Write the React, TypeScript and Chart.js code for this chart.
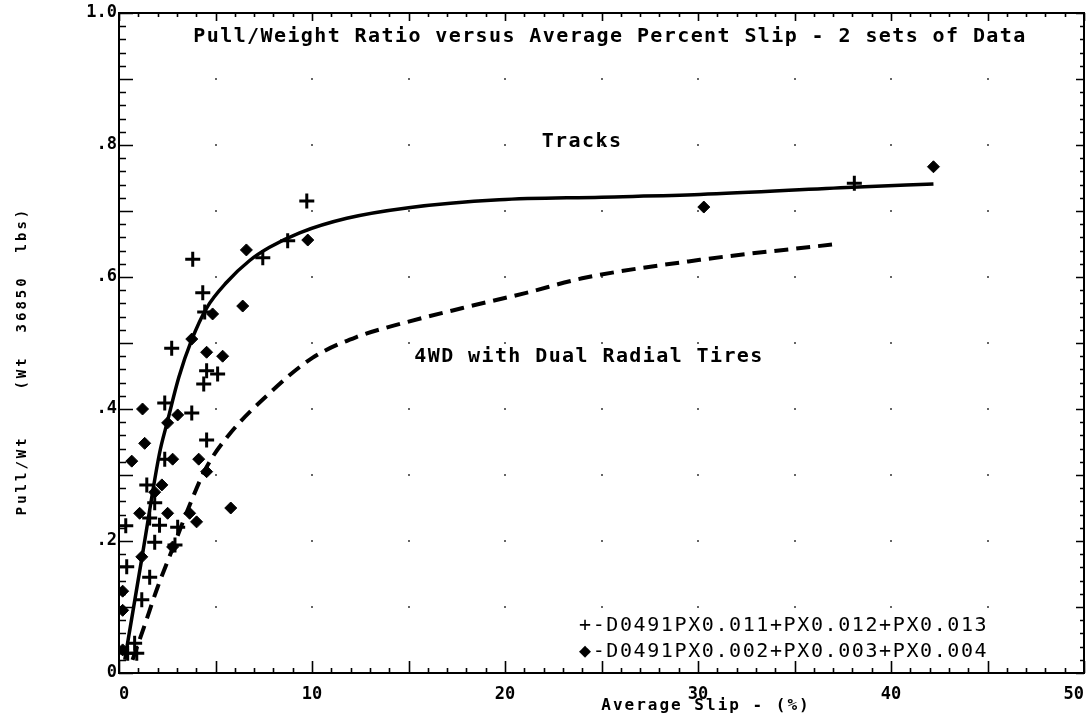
import React, { useEffect, useRef } from 'react';
import { Chart, registerables } from 'chart.js';

Chart.register(...registerables);

// ---------- text ----------
const TITLE = 'Pull/Weight Ratio versus Average Percent Slip - 2 sets of Data';
const X_TITLE = 'Average Slip - (%)';
const Y_TITLE = 'Pull/Wt    (Wt  36850  lbs)';
const TRACKS_LABEL = 'Tracks';
const TIRES_LABEL = '4WD with Dual Radial Tires';
const LEGEND_LINES = ['+-D0491PX0.011+PX0.012+PX0.013', '\u25C6-D0491PX0.002+PX0.003+PX0.004'];

// ---------- ticks ----------
const X_TICKS = [0, 10, 20, 30, 40, 50];
const Y_TICKS = [0, 0.2, 0.4, 0.6, 0.8, 1.0];
const Y_TICK_LABELS = ['0', '.2', '.4', '.6', '.8', '1.0'];

// ---------- "+" series ----------
const plusSlip = [3.82, 7.45, 4.34, 4.44, 2.73, 4.54, 5.11, 4.39, 2.37, 3.77, 4.54, 9.73, 8.74, 38.1,
  2.37, 1.44, 1.85, 1.59, 2.1, 0.35, 1.85, 3.04, 0.4, 1.59, 1.18, 0.81, 0.92, 0.45, 2.9];
const plusPull = [0.627, 0.629, 0.576, 0.547, 0.492, 0.458, 0.453, 0.438, 0.409, 0.394, 0.353, 0.715, 0.655, 0.742,
  0.324, 0.285, 0.258, 0.235, 0.224, 0.223, 0.198, 0.221, 0.161, 0.145, 0.111, 0.045, 0.03, 0.03, 0.194];

// ---------- diamond series ----------
const diamondSlip = [6.6, 6.41, 4.85, 3.77, 4.54, 5.37, 1.22, 3.04, 2.52, 9.78, 30.3, 42.2,
  1.33, 0.66, 2.78, 4.13, 4.54, 2.22, 1.85, 2.52, 1.07, 5.79, 3.66, 4.02, 2.78, 1.18, 0.19, 0.19, 0.19];
const diamondPull = [0.641, 0.556, 0.544, 0.506, 0.486, 0.48, 0.4, 0.391, 0.379, 0.656, 0.706, 0.767,
  0.348, 0.321, 0.324, 0.324, 0.305, 0.285, 0.274, 0.242, 0.242, 0.25, 0.242, 0.229, 0.191, 0.176, 0.124, 0.095, 0.035];

// ---------- fitted curves ----------
const tracksCurveSlip = [0.3, 1.23, 2.1, 2.5, 3.1, 3.77, 4.54, 5.58, 6.77, 7.8, 9.36, 11.8, 15, 19.7, 25, 30.1, 38.0, 42.2];
const tracksCurvePull = [0.02, 0.182, 0.333, 0.38, 0.448, 0.505, 0.553, 0.592, 0.625, 0.645, 0.667, 0.689, 0.705, 0.717, 0.721, 0.725, 0.736, 0.741];

const tiresCurveSlip = [0.7, 1.3, 2.0, 2.8, 3.6, 4.5, 5.7, 7.8, 10.0, 12.3, 14.7, 17.8, 21.1, 24.0, 30.1, 37.2];
const tiresCurvePull = [0.02, 0.07, 0.13, 0.19, 0.25, 0.31, 0.361, 0.424, 0.477, 0.509, 0.53, 0.553, 0.576, 0.598, 0.626, 0.65];

const toPoints = (xs: number[], ys: number[]) => xs.map((x, i) => ({ x, y: ys[i] }));

const MONO = '"DejaVu Sans Mono", "Liberation Mono", monospace';

const decorPlugin = {
  id: 'decor',
  beforeDatasetsDraw(chart: any) {
    const { ctx, scales } = chart;
    const xs = scales.x, ys = scales.y;
    ctx.save();
    ctx.fillStyle = '#666';
    for (let i = 1; i < 10; i++) {
      for (let j = 1; j < 10; j++) {
        const px = xs.getPixelForValue(i * 5);
        const py = ys.getPixelForValue(j / 10);
        ctx.fillRect(Math.round(px) - 1, Math.round(py) - 1, 2, 2);
      }
    }
    ctx.restore();
  },
  afterDraw(chart: any) {
    const { ctx, chartArea, scales } = chart;
    const xs = scales.x, ys = scales.y;
    const { left, right, top, bottom } = chartArea;
    ctx.save();
    ctx.strokeStyle = '#000';
    ctx.lineWidth = 2;
    ctx.strokeRect(left, top, right - left, bottom - top);

    // tick marks, pointing inward
    ctx.lineWidth = 1.6;
    ctx.beginPath();
    for (let i = 0; i <= 50; i++) {
      const px = Math.round(xs.getPixelForValue(i)) + 0.5;
      const major = i % 5 === 0;
      ctx.moveTo(px, bottom);
      ctx.lineTo(px, bottom - (major ? 12 : 5));
      ctx.moveTo(px, top);
      ctx.lineTo(px, top + (major ? 8 : 4));
    }
    for (let j = 0; j <= 50; j++) {
      const py = Math.round(ys.getPixelForValue(j / 50)) + 0.5;
      const major = j % 5 === 0;
      ctx.moveTo(left, py);
      ctx.lineTo(left + (major ? 14 : 7), py);
      ctx.moveTo(right, py);
      ctx.lineTo(right - (major ? 8 : 4), py);
    }
    ctx.stroke();

    ctx.fillStyle = '#000';
    ctx.textBaseline = 'middle';
    ctx.textAlign = 'center';

    // title inside plot
    ctx.font = `bold 20px ${MONO}`;
    (ctx as any).letterSpacing = '1.4px';
    ctx.fillText(TITLE, 610, 37);

    // curve labels
    ctx.fillText(TRACKS_LABEL, 582, 142);
    ctx.fillText(TIRES_LABEL, 589, 357);

    // legend
    ctx.font = `20px ${MONO}`;
    (ctx as any).letterSpacing = '1.6px';
    ctx.textAlign = 'left';
    ctx.fillText(LEGEND_LINES[0], 579, 626);
    ctx.fillText(LEGEND_LINES[1], 579, 652);

    // axis titles
    ctx.font = `bold 16px ${MONO}`;
    (ctx as any).letterSpacing = '2px';
    ctx.textAlign = 'center';
    ctx.fillText(X_TITLE, 706, 706);

    ctx.translate(22, 361);
    ctx.rotate(-Math.PI / 2);
    ctx.font = `bold 14px ${MONO}`;
    (ctx as any).letterSpacing = '3px';
    ctx.fillText(Y_TITLE, 0, 0);
    ctx.restore();
  },
};

export default function App() {
  const canvasRef = useRef<HTMLCanvasElement | null>(null);

  useEffect(() => {
    const canvas = canvasRef.current;
    if (!canvas) return;
    const tickFont = { family: MONO, size: 17, weight: 'bold' as const };
    const chart = new Chart(canvas, {
      type: 'scatter',
      data: {
        datasets: [
          {
            label: 'Tracks',
            data: toPoints(tracksCurveSlip, tracksCurvePull),
            showLine: true,
            borderColor: '#000',
            borderWidth: 3.5,
            pointRadius: 0,
            cubicInterpolationMode: 'monotone',
            order: 3,
          } as any,
          {
            label: '4WD with Dual Radial Tires',
            data: toPoints(tiresCurveSlip, tiresCurvePull),
            showLine: true,
            borderColor: '#000',
            borderWidth: 4,
            borderDash: [14, 8],
            pointRadius: 0,
            cubicInterpolationMode: 'monotone',
            order: 3,
          } as any,
          {
            label: LEGEND_LINES[0],
            data: toPoints(plusSlip, plusPull),
            pointStyle: 'cross',
            pointRadius: 7.5,
            borderWidth: 3,
            borderColor: '#000',
            backgroundColor: '#000',
            order: 1,
          },
          {
            label: LEGEND_LINES[1],
            data: toPoints(diamondSlip, diamondPull),
            pointStyle: 'rectRot',
            pointRadius: 6,
            borderWidth: 1,
            borderColor: '#000',
            backgroundColor: '#000',
            order: 2,
          },
        ],
      },
      options: {
        responsive: false,
        animation: false,
        layout: { autoPadding: false, padding: { top: 13, right: 2, left: 0, bottom: 0 } },
        plugins: {
          legend: { display: false },
          tooltip: { enabled: false },
          title: { display: false },
        },
        scales: {
          x: {
            type: 'linear',
            min: 0,
            max: 50,
            afterBuildTicks: (s: any) => {
              s.ticks = X_TICKS.map((v) => ({ value: v }));
            },
            afterFit: (s: any) => {
              s.height = 46;
              s.paddingLeft = 0;
              s.paddingRight = 0;
            },
            ticks: {
              align: 'inner',
              autoSkip: false,
              maxRotation: 0,
              padding: 11,
              color: '#000',
              font: tickFont,
              callback: (v: any) => String(v),
            },
            grid: { display: false, drawTicks: false },
            border: { display: false },
          },
          y: {
            type: 'linear',
            min: 0,
            max: 1,
            afterBuildTicks: (s: any) => {
              s.ticks = Y_TICKS.map((v) => ({ value: v }));
            },
            afterFit: (s: any) => {
              s.width = 119;
              s.paddingTop = 0;
              s.paddingBottom = 0;
            },
            ticks: {
              autoSkip: false,
              padding: 2,
              color: '#000',
              font: tickFont,
              callback: (v: any) => {
                const i = Y_TICKS.findIndex((t) => Math.abs(t - Number(v)) < 1e-6);
                return i >= 0 ? Y_TICK_LABELS[i] : '';
              },
            },
            grid: { display: false, drawTicks: false },
            border: { display: false },
          },
        },
      } as any,
      plugins: [decorPlugin],
    });
    return () => chart.destroy();
  }, []);

  return (
    <div style={{ position: 'fixed', left: 0, top: 0, width: 1086, height: 719, background: '#fff' }}>
      <canvas ref={canvasRef} width={1086} height={719} style={{ display: 'block' }} />
    </div>
  );
}
